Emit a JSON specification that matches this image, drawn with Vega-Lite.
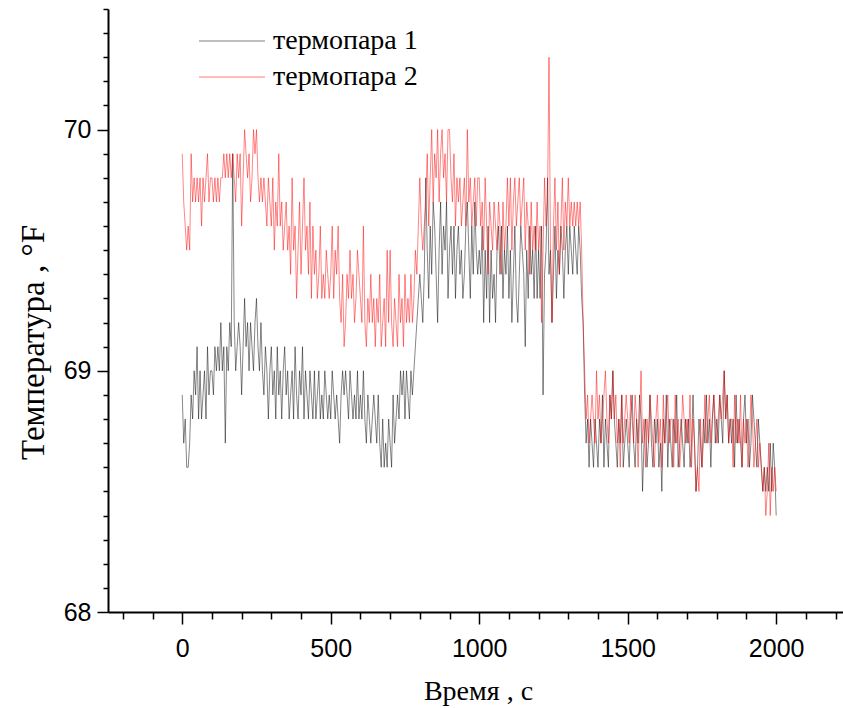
{
"$schema": "https://vega.github.io/schema/vega-lite/v6.json",
"width": 735, "height": 603,
"autosize": {"type": "none"},
"padding": {"left": 108, "top": 9, "right": 0, "bottom": 96},
"background": "white",
"config": {"view": {"stroke": null}, "axis": {"grid": false, "domainColor": "#000", "tickColor": "#000", "labelColor": "#000", "titleColor": "#000", "domainWidth": 2, "tickWidth": 1.5, "labelFont": "Liberation Sans", "labelFontSize": 25, "titleFont": "Liberation Serif", "titleFontSize": 28, "titleFontWeight": "normal"}, "legend": {"labelFont": "Liberation Serif", "labelFontSize": 28, "labelColor": "#000"}},
"data": {"values": [
{"t":0,"a":68.9,"b":69.9},{"t":5,"a":68.7,"b":69.7},{"t":10,"a":68.8,"b":69.6},{"t":15,"a":68.6,"b":69.5},{"t":20,"a":68.6,"b":69.6},{"t":25,"a":68.7,"b":69.5},{"t":30,"a":68.9,"b":69.9},{"t":35,"a":68.8,"b":69.7},{"t":40,"a":69.0,"b":69.8},{"t":45,"a":68.9,"b":69.7},
{"t":50,"a":69.1,"b":69.8},{"t":55,"a":68.8,"b":69.7},{"t":60,"a":69.0,"b":69.8},{"t":65,"a":68.8,"b":69.6},{"t":70,"a":68.9,"b":69.8},{"t":75,"a":69.0,"b":69.7},{"t":80,"a":68.8,"b":69.8},{"t":85,"a":69.1,"b":69.9},{"t":90,"a":68.9,"b":69.7},{"t":95,"a":69.0,"b":69.8},
{"t":100,"a":69.0,"b":69.8},{"t":105,"a":68.9,"b":69.7},{"t":110,"a":69.1,"b":69.8},{"t":115,"a":69.0,"b":69.7},{"t":120,"a":69.1,"b":69.8},{"t":125,"a":69.0,"b":69.7},{"t":130,"a":69.2,"b":69.8},{"t":135,"a":69.0,"b":69.8},{"t":140,"a":69.1,"b":69.9},{"t":145,"a":68.7,"b":69.8},
{"t":150,"a":69.1,"b":69.9},{"t":155,"a":69.0,"b":69.8},{"t":160,"a":69.2,"b":69.9},{"t":165,"a":69.1,"b":69.8},{"t":170,"a":69.9,"b":69.9},{"t":175,"a":69.2,"b":69.8},{"t":180,"a":69.0,"b":69.7},{"t":185,"a":69.1,"b":69.9},{"t":190,"a":69.2,"b":69.8},{"t":195,"a":69.1,"b":69.9},
{"t":200,"a":68.9,"b":69.6},{"t":205,"a":69.1,"b":69.8},{"t":210,"a":69.3,"b":70.0},{"t":215,"a":69.1,"b":69.9},{"t":220,"a":69.2,"b":69.8},{"t":225,"a":69.0,"b":69.9},{"t":230,"a":69.2,"b":69.7},{"t":235,"a":69.1,"b":69.8},{"t":240,"a":69.0,"b":70.0},{"t":245,"a":69.2,"b":69.9},
{"t":250,"a":69.3,"b":70.0},{"t":255,"a":69.1,"b":69.8},{"t":260,"a":69.0,"b":69.7},{"t":265,"a":69.2,"b":69.8},{"t":270,"a":69.0,"b":69.7},{"t":275,"a":68.9,"b":69.8},{"t":280,"a":69.1,"b":69.7},{"t":285,"a":69.0,"b":69.6},{"t":290,"a":68.8,"b":69.8},{"t":295,"a":69.0,"b":69.7},
{"t":300,"a":69.1,"b":69.6},{"t":305,"a":68.9,"b":69.8},{"t":310,"a":69.0,"b":69.5},{"t":315,"a":68.8,"b":69.7},{"t":320,"a":69.1,"b":69.6},{"t":325,"a":68.9,"b":69.9},{"t":330,"a":69.0,"b":69.6},{"t":335,"a":68.8,"b":69.7},{"t":340,"a":69.0,"b":69.5},{"t":345,"a":69.1,"b":69.6},
{"t":350,"a":68.9,"b":69.7},{"t":355,"a":69.0,"b":69.5},{"t":360,"a":68.8,"b":69.6},{"t":365,"a":68.9,"b":69.4},{"t":370,"a":69.0,"b":69.8},{"t":375,"a":68.8,"b":69.5},{"t":380,"a":69.1,"b":69.6},{"t":385,"a":68.9,"b":69.3},{"t":390,"a":68.8,"b":69.5},{"t":395,"a":69.0,"b":69.7},
{"t":400,"a":68.9,"b":69.4},{"t":405,"a":69.1,"b":69.6},{"t":410,"a":68.8,"b":69.8},{"t":415,"a":69.0,"b":69.5},{"t":420,"a":68.9,"b":69.6},{"t":425,"a":68.8,"b":69.4},{"t":430,"a":69.0,"b":69.7},{"t":435,"a":68.9,"b":69.3},{"t":440,"a":68.8,"b":69.6},{"t":445,"a":69.0,"b":69.4},
{"t":450,"a":68.8,"b":69.5},{"t":455,"a":68.9,"b":69.3},{"t":460,"a":69.0,"b":69.4},{"t":465,"a":68.8,"b":69.6},{"t":470,"a":68.9,"b":69.3},{"t":475,"a":68.8,"b":69.4},{"t":480,"a":69.0,"b":69.3},{"t":485,"a":68.9,"b":69.5},{"t":490,"a":68.8,"b":69.4},{"t":495,"a":68.9,"b":69.3},
{"t":500,"a":68.8,"b":69.4},{"t":505,"a":69.0,"b":69.6},{"t":510,"a":68.9,"b":69.3},{"t":515,"a":68.8,"b":69.5},{"t":520,"a":68.9,"b":69.4},{"t":525,"a":68.8,"b":69.6},{"t":530,"a":68.7,"b":69.3},{"t":535,"a":68.9,"b":69.2},{"t":540,"a":69.0,"b":69.4},{"t":545,"a":68.9,"b":69.1},
{"t":550,"a":69.0,"b":69.2},{"t":555,"a":68.9,"b":69.4},{"t":560,"a":68.8,"b":69.3},{"t":565,"a":69.0,"b":69.5},{"t":570,"a":68.9,"b":69.3},{"t":575,"a":68.8,"b":69.4},{"t":580,"a":68.9,"b":69.2},{"t":585,"a":68.8,"b":69.3},{"t":590,"a":69.0,"b":69.5},{"t":595,"a":68.8,"b":69.4},
{"t":600,"a":68.9,"b":69.3},{"t":605,"a":68.8,"b":69.2},{"t":610,"a":69.0,"b":69.6},{"t":615,"a":68.8,"b":69.2},{"t":620,"a":68.7,"b":69.1},{"t":625,"a":68.9,"b":69.3},{"t":630,"a":68.8,"b":69.2},{"t":635,"a":68.7,"b":69.4},{"t":640,"a":68.8,"b":69.2},{"t":645,"a":68.9,"b":69.3},
{"t":650,"a":68.8,"b":69.1},{"t":655,"a":68.7,"b":69.3},{"t":660,"a":68.9,"b":69.2},{"t":665,"a":68.7,"b":69.4},{"t":670,"a":68.6,"b":69.1},{"t":675,"a":68.8,"b":69.2},{"t":680,"a":68.6,"b":69.3},{"t":685,"a":68.7,"b":69.1},{"t":690,"a":68.6,"b":69.5},{"t":695,"a":68.8,"b":69.2},
{"t":700,"a":68.7,"b":69.5},{"t":705,"a":68.6,"b":69.2},{"t":710,"a":68.9,"b":69.1},{"t":715,"a":68.7,"b":69.3},{"t":720,"a":68.8,"b":69.2},{"t":725,"a":68.9,"b":69.1},{"t":730,"a":68.8,"b":69.4},{"t":735,"a":69.0,"b":69.2},{"t":740,"a":68.9,"b":69.3},{"t":745,"a":69.0,"b":69.1},
{"t":750,"a":68.8,"b":69.4},{"t":755,"a":69.0,"b":69.2},{"t":760,"a":68.9,"b":69.3},{"t":765,"a":68.8,"b":69.2},{"t":770,"a":69.0,"b":69.4},{"t":775,"a":68.9,"b":69.2},{"t":780,"a":69.0,"b":69.3},{"t":785,"a":69.1,"b":69.5},{"t":790,"a":69.2,"b":69.4},{"t":795,"a":69.3,"b":69.6},
{"t":800,"a":69.4,"b":69.8},{"t":805,"a":69.3,"b":69.6},{"t":810,"a":69.2,"b":69.5},{"t":815,"a":69.4,"b":69.6},{"t":820,"a":69.8,"b":69.7},{"t":825,"a":69.5,"b":69.9},{"t":830,"a":69.3,"b":69.6},{"t":835,"a":69.6,"b":69.8},{"t":840,"a":69.4,"b":70.0},{"t":845,"a":69.7,"b":69.7},
{"t":850,"a":69.6,"b":69.9},{"t":855,"a":69.4,"b":69.8},{"t":860,"a":69.2,"b":70.0},{"t":865,"a":69.5,"b":69.7},{"t":870,"a":69.7,"b":69.9},{"t":875,"a":69.4,"b":70.0},{"t":880,"a":69.6,"b":69.8},{"t":885,"a":69.5,"b":69.9},{"t":890,"a":69.7,"b":69.7},{"t":895,"a":69.3,"b":70.0},
{"t":900,"a":69.5,"b":70.0},{"t":905,"a":69.6,"b":69.8},{"t":910,"a":69.4,"b":69.7},{"t":915,"a":69.6,"b":69.9},{"t":920,"a":69.3,"b":69.6},{"t":925,"a":69.5,"b":69.8},{"t":930,"a":69.6,"b":69.7},{"t":935,"a":69.4,"b":69.8},{"t":940,"a":69.5,"b":69.6},{"t":945,"a":69.3,"b":69.7},
{"t":950,"a":69.4,"b":69.8},{"t":955,"a":69.6,"b":69.6},{"t":960,"a":69.7,"b":70.0},{"t":965,"a":69.5,"b":69.7},{"t":970,"a":69.3,"b":69.8},{"t":975,"a":69.6,"b":69.6},{"t":980,"a":69.4,"b":69.7},{"t":985,"a":69.7,"b":69.8},{"t":990,"a":69.5,"b":69.6},{"t":995,"a":69.4,"b":69.8},
{"t":1000,"a":69.5,"b":69.8},{"t":1005,"a":69.4,"b":69.6},{"t":1010,"a":69.6,"b":69.7},{"t":1015,"a":69.2,"b":69.5},{"t":1020,"a":69.5,"b":69.8},{"t":1025,"a":69.3,"b":69.6},{"t":1030,"a":69.6,"b":69.4},{"t":1035,"a":69.2,"b":69.7},{"t":1040,"a":69.5,"b":69.6},{"t":1045,"a":69.3,"b":69.5},
{"t":1050,"a":69.4,"b":69.7},{"t":1055,"a":69.2,"b":69.6},{"t":1060,"a":69.5,"b":69.5},{"t":1065,"a":69.6,"b":69.7},{"t":1070,"a":69.4,"b":69.6},{"t":1075,"a":69.6,"b":69.4},{"t":1080,"a":69.3,"b":69.7},{"t":1085,"a":69.5,"b":69.5},{"t":1090,"a":69.4,"b":69.6},{"t":1095,"a":69.6,"b":69.8},
{"t":1100,"a":69.3,"b":69.6},{"t":1105,"a":69.5,"b":69.8},{"t":1110,"a":69.2,"b":69.5},{"t":1115,"a":69.4,"b":69.7},{"t":1120,"a":69.6,"b":69.8},{"t":1125,"a":69.3,"b":69.6},{"t":1130,"a":69.2,"b":69.7},{"t":1135,"a":69.4,"b":69.8},{"t":1140,"a":69.6,"b":69.6},{"t":1145,"a":69.5,"b":69.7},
{"t":1150,"a":69.4,"b":69.8},{"t":1155,"a":69.1,"b":69.5},{"t":1160,"a":69.5,"b":69.7},{"t":1165,"a":69.3,"b":69.6},{"t":1170,"a":69.6,"b":69.4},{"t":1175,"a":69.4,"b":69.7},{"t":1180,"a":69.5,"b":69.5},{"t":1185,"a":69.3,"b":69.6},{"t":1190,"a":69.6,"b":69.5},{"t":1195,"a":69.3,"b":69.7},
{"t":1200,"a":69.5,"b":69.5},{"t":1205,"a":69.3,"b":69.6},{"t":1210,"a":69.6,"b":69.2},{"t":1215,"a":68.9,"b":69.5},{"t":1220,"a":69.4,"b":69.8},{"t":1225,"a":69.5,"b":69.6},{"t":1230,"a":69.8,"b":69.7},{"t":1235,"a":69.4,"b":70.3},{"t":1240,"a":69.5,"b":69.5},{"t":1245,"a":69.2,"b":69.2},
{"t":1250,"a":69.4,"b":69.6},{"t":1255,"a":69.6,"b":69.8},{"t":1260,"a":69.3,"b":69.5},{"t":1265,"a":69.5,"b":69.7},{"t":1270,"a":69.4,"b":69.4},{"t":1275,"a":69.6,"b":69.6},{"t":1280,"a":69.5,"b":69.8},{"t":1285,"a":69.3,"b":69.5},{"t":1290,"a":69.5,"b":69.7},{"t":1295,"a":69.6,"b":69.6},
{"t":1300,"a":69.4,"b":69.8},{"t":1305,"a":69.6,"b":69.6},{"t":1310,"a":69.5,"b":69.7},{"t":1315,"a":69.4,"b":69.6},{"t":1320,"a":69.6,"b":69.7},{"t":1325,"a":69.5,"b":69.6},{"t":1330,"a":69.4,"b":69.7},{"t":1335,"a":69.6,"b":69.6},{"t":1340,"a":69.5,"b":69.7},{"t":1345,"a":69.3,"b":69.5},
{"t":1350,"a":69.2,"b":69.2},{"t":1355,"a":68.9,"b":69.0},{"t":1360,"a":68.7,"b":68.8},{"t":1365,"a":68.8,"b":68.9},{"t":1370,"a":68.6,"b":68.7},{"t":1375,"a":68.8,"b":68.8},{"t":1380,"a":68.7,"b":68.9},{"t":1385,"a":68.6,"b":68.8},{"t":1390,"a":68.8,"b":68.7},{"t":1395,"a":68.7,"b":69.0},
{"t":1400,"a":68.6,"b":68.8},{"t":1405,"a":68.8,"b":68.9},{"t":1410,"a":68.7,"b":68.7},{"t":1415,"a":68.9,"b":68.8},{"t":1420,"a":68.6,"b":68.9},{"t":1425,"a":68.8,"b":69.0},{"t":1430,"a":68.7,"b":68.8},{"t":1435,"a":68.6,"b":68.7},{"t":1440,"a":68.9,"b":68.9},{"t":1445,"a":68.8,"b":68.8},
{"t":1450,"a":69.0,"b":69.0},{"t":1455,"a":68.8,"b":68.8},{"t":1460,"a":68.7,"b":68.9},{"t":1465,"a":68.6,"b":68.7},{"t":1470,"a":68.8,"b":68.8},{"t":1475,"a":68.7,"b":68.6},{"t":1480,"a":68.9,"b":68.9},{"t":1485,"a":68.6,"b":68.7},{"t":1490,"a":68.7,"b":68.8},{"t":1495,"a":68.8,"b":68.9},
{"t":1500,"a":68.7,"b":68.8},{"t":1505,"a":68.6,"b":68.7},{"t":1510,"a":68.8,"b":68.9},{"t":1515,"a":68.9,"b":68.8},{"t":1520,"a":68.7,"b":68.7},{"t":1525,"a":68.6,"b":68.9},{"t":1530,"a":68.8,"b":68.8},{"t":1535,"a":68.7,"b":68.6},{"t":1540,"a":68.9,"b":68.8},{"t":1545,"a":68.8,"b":69.0},
{"t":1550,"a":68.5,"b":68.7},{"t":1555,"a":68.7,"b":68.8},{"t":1560,"a":68.8,"b":68.6},{"t":1565,"a":68.6,"b":68.8},{"t":1570,"a":68.7,"b":68.7},{"t":1575,"a":68.9,"b":68.9},{"t":1580,"a":68.7,"b":68.8},{"t":1585,"a":68.6,"b":68.7},{"t":1590,"a":68.8,"b":68.6},{"t":1595,"a":68.7,"b":68.8},
{"t":1600,"a":68.8,"b":68.9},{"t":1605,"a":68.6,"b":68.7},{"t":1610,"a":68.7,"b":68.8},{"t":1615,"a":68.5,"b":68.6},{"t":1620,"a":68.8,"b":68.9},{"t":1625,"a":68.7,"b":68.7},{"t":1630,"a":68.9,"b":68.8},{"t":1635,"a":68.6,"b":68.9},{"t":1640,"a":68.8,"b":68.7},{"t":1645,"a":68.7,"b":68.8},
{"t":1650,"a":68.6,"b":68.8},{"t":1655,"a":68.8,"b":68.6},{"t":1660,"a":68.7,"b":68.9},{"t":1665,"a":68.9,"b":68.7},{"t":1670,"a":68.6,"b":68.8},{"t":1675,"a":68.7,"b":68.6},{"t":1680,"a":68.8,"b":68.7},{"t":1685,"a":68.7,"b":68.9},{"t":1690,"a":68.6,"b":68.8},{"t":1695,"a":68.8,"b":68.7},
{"t":1700,"a":68.7,"b":68.8},{"t":1705,"a":68.8,"b":68.7},{"t":1710,"a":68.6,"b":68.9},{"t":1715,"a":68.7,"b":68.6},{"t":1720,"a":68.9,"b":68.8},{"t":1725,"a":68.7,"b":68.7},{"t":1730,"a":68.5,"b":68.5},{"t":1735,"a":68.6,"b":68.6},{"t":1740,"a":68.8,"b":68.5},{"t":1745,"a":68.7,"b":68.8},
{"t":1750,"a":68.6,"b":68.6},{"t":1755,"a":68.8,"b":68.7},{"t":1760,"a":68.7,"b":68.9},{"t":1765,"a":68.9,"b":68.7},{"t":1770,"a":68.7,"b":68.8},{"t":1775,"a":68.8,"b":68.9},{"t":1780,"a":68.6,"b":68.7},{"t":1785,"a":68.8,"b":68.8},{"t":1790,"a":68.9,"b":68.9},{"t":1795,"a":68.7,"b":68.8},
{"t":1800,"a":68.8,"b":68.7},{"t":1805,"a":68.7,"b":68.8},{"t":1810,"a":68.9,"b":68.9},{"t":1815,"a":68.8,"b":68.8},{"t":1820,"a":68.7,"b":68.9},{"t":1825,"a":69.0,"b":69.0},{"t":1830,"a":68.8,"b":68.8},{"t":1835,"a":68.9,"b":68.9},{"t":1840,"a":68.7,"b":68.7},{"t":1845,"a":68.8,"b":68.8},
{"t":1850,"a":68.7,"b":68.8},{"t":1855,"a":68.8,"b":68.6},{"t":1860,"a":68.6,"b":68.9},{"t":1865,"a":68.9,"b":68.7},{"t":1870,"a":68.7,"b":68.8},{"t":1875,"a":68.8,"b":68.7},{"t":1880,"a":68.7,"b":68.9},{"t":1885,"a":68.6,"b":68.6},{"t":1890,"a":68.8,"b":68.8},{"t":1895,"a":68.9,"b":68.7},
{"t":1900,"a":68.7,"b":68.8},{"t":1905,"a":68.8,"b":68.6},{"t":1910,"a":68.6,"b":68.7},{"t":1915,"a":68.7,"b":68.9},{"t":1920,"a":68.9,"b":68.8},{"t":1925,"a":68.8,"b":68.6},{"t":1930,"a":68.7,"b":68.7},{"t":1935,"a":68.6,"b":68.8},{"t":1940,"a":68.8,"b":68.6},{"t":1945,"a":68.7,"b":68.7},
{"t":1950,"a":68.6,"b":68.6},{"t":1955,"a":68.5,"b":68.5},{"t":1960,"a":68.6,"b":68.6},{"t":1965,"a":68.5,"b":68.4},{"t":1970,"a":68.6,"b":68.5},{"t":1975,"a":68.5,"b":68.7},{"t":1980,"a":68.7,"b":68.4},{"t":1985,"a":68.5,"b":68.6},{"t":1990,"a":68.7,"b":68.5},{"t":1995,"a":68.6,"b":68.6},{"t":2000,"a":68.4,"b":68.5}
]},
"transform": [{"fold": ["a", "b"], "as": ["s", "v"]}],
"mark": {"type": "line", "strokeWidth": 0.8, "strokeOpacity": 0.6, "clip": true},
"encoding": {
  "x": {"field": "t", "type": "quantitative",
    "scale": {"domain": [-250, 2225], "nice": false, "zero": false},
    "axis": {"values": [-200,-100,0,100,200,300,400,500,600,700,800,900,1000,1100,1200,1300,1400,1500,1600,1700,1800,1900,2000,2100,2200],
      "format": "d",
      "labelExpr": "datum.value % 500 === 0 ? datum.label : ''",
      "tickSize": {"condition": {"test": "datum.value % 500 === 0", "value": 12}, "value": 7},
      "labelPadding": 12, "labelFlush": false, "labelOverlap": false,
      "title": "Время , с", "titleX": 370, "titleY": 87, "titleBaseline": "alphabetic", "titleAlign": "center", "titleAnchor": null}},
  "y": {"field": "v", "type": "quantitative",
    "scale": {"domain": [68, 70.5], "nice": false, "zero": false},
    "axis": {"values": [68,68.1,68.2,68.3,68.4,68.5,68.6,68.7,68.8,68.9,69,69.1,69.2,69.3,69.4,69.5,69.6,69.7,69.8,69.9,70,70.1,70.2,70.3,70.4,70.5],
      "labelExpr": "abs(datum.value - round(datum.value)) < 0.001 ? format(datum.value, 'd') : ''",
      "tickSize": {"condition": {"test": "abs(datum.value - round(datum.value)) < 0.001", "value": 11}, "value": 5},
      "labelPadding": 6, "labelFlush": false, "labelOverlap": false,
      "title": "Температура , °F", "titleFontSize": 33, "titleX": -65, "titleY": 333, "titleAngle": -90, "titleBaseline": "alphabetic", "titleAlign": "center", "titleAnchor": null}},
  "color": {"field": "s", "type": "nominal",
    "scale": {"domain": ["a", "b"], "range": ["#000000", "#ff0000"]},
    "legend": {"orient": "none", "legendX": 110, "legendY": 18, "title": null, "padding": 0,
      "symbolType": "M-4,0H4", "symbolSize": 272, "symbolStrokeWidth": 1, "symbolOpacity": 0.5,
      "labelFont": "Liberation Serif", "labelFontSize": 28, "labelColor": "#000", "labelOffset": 27, "rowPadding": 8,
      "labelExpr": "datum.label == 'a' ? 'термопара 1' : 'термопара 2'"}}
}
}
